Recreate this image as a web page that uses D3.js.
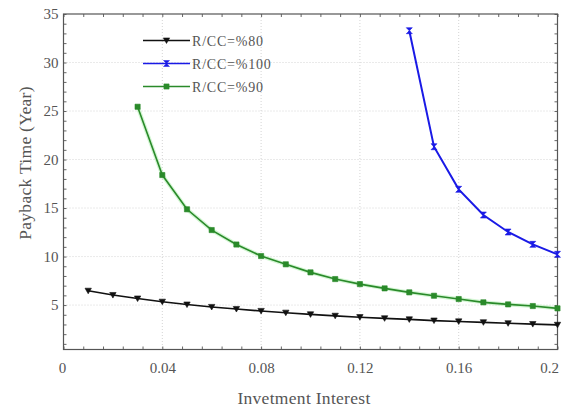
<!DOCTYPE html>
<html>
<head>
<meta charset="utf-8">
<script src="https://cdn.jsdelivr.net/npm/d3@7/dist/d3.min.js"></script>
<style>
  html, body { margin: 0; padding: 0; background: #fff; }
  svg { display: block; }
  text { font-family: "Liberation Serif", "DejaVu Serif", serif; fill: #555; }
</style>
</head>
<body>
<svg id="chart" width="568" height="408"></svg>
<script>
// Investment interest rates for each curve
const rates80 = [0.01,0.02,0.03,0.04,0.05,0.06,0.07,0.08,0.09,0.10,0.11,0.12,0.13,0.14,0.15,0.16,0.17,0.18,0.19,0.20];
const rates90 = [0.03,0.04,0.05,0.06,0.07,0.08,0.09,0.10,0.11,0.12,0.13,0.14,0.15,0.16,0.17,0.18,0.19,0.20];
const rates100 = [0.14,0.15,0.16,0.17,0.18,0.19,0.20];

// Payback time (years)
const payback80 = [6.47,6.03,5.67,5.34,5.05,4.80,4.59,4.39,4.21,4.04,3.89,3.75,3.63,3.52,3.40,3.31,3.22,3.12,3.04,2.96];
const payback90 = [25.44,18.4,14.87,12.73,11.24,10.05,9.2,8.37,7.68,7.16,6.72,6.31,5.96,5.62,5.28,5.07,4.9,4.66];
const payback100 = [33.28,21.32,16.93,14.28,12.53,11.26,10.23];

const seriesNames = ["R/CC=%80", "R/CC=%100", "R/CC=%90"];

// Axis tick values
const xTicks = [0, 0.04, 0.08, 0.12, 0.16, 0.2];
const yTicks = [5, 10, 15, 20, 25, 30, 35];

const svg = d3.select("#chart");
const pLeft = 63.5, pRight = 557.5, pTop = 14, pBottom = 349.5;

const x = d3.scaleLinear().domain([0, 0.2]).range([pLeft, pRight]);
const y = d3.scaleLinear().domain([0.42, 35]).range([pBottom, pTop]);

// Dotted grid at major ticks
const grid = svg.append("g");
grid.selectAll(".gx").data(xTicks.slice(1, -1)).join("line")
  .attr("x1", d => x(d)).attr("x2", d => x(d))
  .attr("y1", pTop).attr("y2", pBottom)
  .attr("stroke", "#d4d4d4").attr("stroke-width", 1).attr("stroke-dasharray", "1,2");
grid.selectAll(".gy").data(yTicks.slice(0, -1)).join("line")
  .attr("x1", pLeft).attr("x2", pRight)
  .attr("y1", d => y(d)).attr("y2", d => y(d))
  .attr("stroke", "#d4d4d4").attr("stroke-width", 1).attr("stroke-dasharray", "1,2");

// Inward ticks on all four sides
const xMinor = d3.range(0, 0.2001, 0.008);
const yMinor = d3.range(1, 35.001, 1);
const fmtX = d => d === 0 ? "0" : d3.format("~g")(d);

function addAxis(axis, transform) {
  const g = svg.append("g").attr("transform", transform).call(axis);
  g.select(".domain").remove();
  g.selectAll("line").attr("stroke", "#666");
  return g;
}
addAxis(d3.axisBottom(x).tickValues(xMinor).tickSize(-3).tickFormat(""), `translate(0,${pBottom})`);
addAxis(d3.axisTop(x).tickValues(xMinor).tickSize(-3).tickFormat(""), `translate(0,${pTop})`);
addAxis(d3.axisLeft(y).tickValues(yMinor).tickSize(-3).tickFormat(""), `translate(${pLeft},0)`);
addAxis(d3.axisRight(y).tickValues(yMinor).tickSize(-3).tickFormat(""), `translate(${pRight},0)`);

// Tick labels
const xLab = addAxis(d3.axisBottom(x).tickValues(xTicks).tickSize(0).tickPadding(13).tickFormat(fmtX), `translate(0,${pBottom})`);
xLab.selectAll("text").style("font-size", "15px").style("font-family", "Liberation Serif, serif").attr("fill", "#777");
xLab.selectAll("text").filter(d => d === 0.2).attr("text-anchor", "end").attr("dx", "1");
xLab.selectAll("text").filter(d => d === 0).attr("dx", "-1.5");
const yLab = addAxis(d3.axisLeft(y).tickValues(yTicks).tickSize(0).tickPadding(5).tickFormat(d3.format("d")), `translate(${pLeft},0)`);
yLab.selectAll("text").style("font-size", "15px").style("font-family", "Liberation Serif, serif").attr("fill", "#777");

// Frame
svg.append("rect").attr("x", pLeft).attr("y", pTop)
  .attr("width", pRight - pLeft).attr("height", pBottom - pTop)
  .attr("fill", "none").attr("stroke", "#555").attr("stroke-width", 1.2);

// Marker shapes
const triDown = "M-3.2,-2.6L3.2,-2.6L0,3Z";
const square = "M-2.6,-2.6H2.6V2.6H-2.6Z";
const hourglass = "M-3,-3L3,-3L-3,3L3,3Z";

const series = [
  { name: seriesNames[0], xs: rates80, ys: payback80, color: "#111", width: 1.6, marker: triDown },
  { name: seriesNames[1], xs: rates100, ys: payback100, color: "#1a1ae6", width: 2, marker: hourglass },
  { name: seriesNames[2], xs: rates90, ys: payback90, color: "#2a8a2a", width: 1.6, marker: square }
];

const line = d3.line().x(d => x(d[0])).y(d => y(d[1]));

// Soft halo on the green curve
const g90 = series[2];
svg.append("path").datum(d3.zip(g90.xs, g90.ys)).attr("d", line)
  .attr("fill", "none").attr("stroke", "#b8f0b8").attr("stroke-width", 4).attr("opacity", 0.6);

series.forEach(s => {
  const pts = d3.zip(s.xs, s.ys);
  svg.append("path").datum(pts).attr("d", line)
    .attr("fill", "none").attr("stroke", s.color).attr("stroke-width", s.width);
  svg.append("g").selectAll("path").data(pts).join("path")
    .attr("transform", d => `translate(${x(d[0])},${y(d[1])})`)
    .attr("d", s.marker).attr("fill", s.color).attr("stroke", s.color).attr("stroke-width", 0.6);
});

// Legend
const legend = svg.append("g");
series.forEach((s, i) => {
  const ly = 40.5 + i * 23;
  legend.append("line").attr("x1", 143).attr("x2", 190).attr("y1", ly).attr("y2", ly)
    .attr("stroke", s.color).attr("stroke-width", s.width === 2 ? 1.6 : 1.3);
  legend.append("path").attr("transform", `translate(166.5,${ly})`).attr("d", s.marker)
    .attr("fill", s.color).attr("stroke", s.color).attr("stroke-width", 0.5);
  legend.append("text").attr("x", 192).attr("y", ly + 5)
    .style("font-size", "14px").style("letter-spacing", "0.8px").attr("fill", "#666").text(s.name);
});

// Axis titles
svg.append("text").attr("x", 304).attr("y", 404).attr("text-anchor", "middle")
  .style("font-size", "17.5px").style("letter-spacing", "0.3px").attr("fill", "#555").text("Invetment Interest");
svg.append("text").attr("transform", "translate(31,163) rotate(-90)").attr("text-anchor", "middle")
  .style("font-size", "17.5px").style("letter-spacing", "0.3px").attr("fill", "#555").text("Payback Time (Year)");
</script>
</body>
</html>
